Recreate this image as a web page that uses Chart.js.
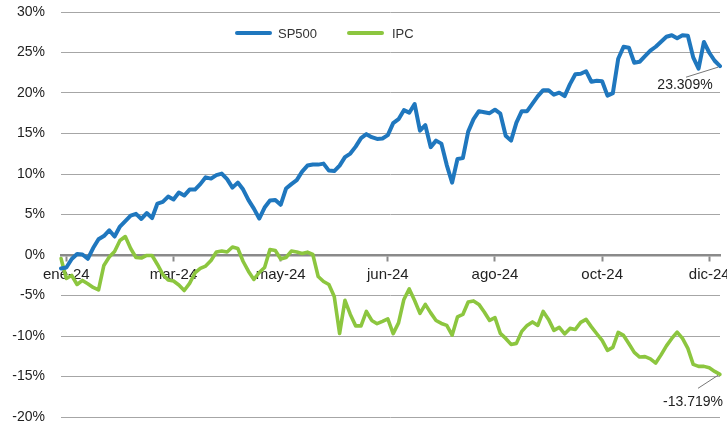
<!DOCTYPE html>
<html>
<head>
<meta charset="utf-8">
<script src="https://cdn.jsdelivr.net/npm/chart.js@4.4.1/dist/chart.umd.min.js"></script>
<style>
  html, body { margin: 0; padding: 0; background: #fff; }
  #wrap { width: 727px; height: 427px; }
</style>
</head>
<body>
<div id="wrap"><canvas id="chart" width="727" height="427"></canvas></div>
<script>
// cumulative return 2024, % (one value every ~2 trading days)
const SP500 = [
  -1.66, -1.54, -0.49, 0.12, 0.06, -0.47, 0.86, 1.94, 2.34, 3.05,
  2.28, 3.51, 4.19, 4.87, 5.08, 4.45, 5.18, 4.56, 6.35, 6.56,
  7.21, 6.85, 7.71, 7.34, 8.08, 8.08, 8.75, 9.59, 9.43, 9.86,
  10.05, 9.37, 8.32, 8.94, 8.08, 6.78, 5.73, 4.50, 5.86, 6.72,
  6.78, 6.20, 8.20, 8.75, 9.25, 10.30, 11.04, 11.18, 11.16, 11.28,
  10.42, 10.36, 11.04, 12.08, 12.52, 13.38, 14.43, 14.92, 14.55, 14.33,
  14.39, 14.80, 16.28, 16.77, 17.88, 17.57, 18.64, 15.35, 16.03, 13.32,
  14.12, 13.75, 11.10, 8.94, 11.86, 11.96, 15.23, 16.77, 17.76, 17.63,
  17.51, 17.94, 17.45, 14.73, 14.12, 16.34, 17.76, 17.76, 18.68, 19.61,
  20.35, 20.35, 19.79, 20.04, 19.61, 21.09, 22.32, 22.38, 22.69, 21.39,
  21.52, 21.45, 19.67, 19.98, 24.23, 25.71, 25.59, 23.74, 23.86, 24.54,
  25.22, 25.71, 26.33, 26.94, 27.13, 26.76, 27.13, 27.07, 24.4, 23.0,
  26.3, 24.97, 23.98, 23.309
];
const IPC = [
  -0.43, -2.9, -2.53, -3.64, -3.14, -3.55, -4.01, -4.32, -1.29, -0.25,
  0.43, 1.79, 2.28, 0.80, -0.31, -0.37, -0.06, -0.06, -1.17, -2.40,
  -3.08, -3.21, -3.70, -4.38, -3.51, -2.22, -1.66, -1.36, -0.68, 0.37,
  0.49, 0.37, 0.99, 0.80, -0.80, -2.03, -3.02, -2.16, -1.54, 0.68,
  0.55, -0.49, -0.31, 0.49, 0.37, 0.18, 0.35, 0.06, -2.65, -3.27,
  -3.64, -5.12, -9.68, -5.6, -7.34, -8.75, -8.75, -6.97, -8.08, -8.48,
  -8.20, -7.89, -9.7, -8.38, -5.49, -4.19, -5.61, -7.21, -6.10, -7.15,
  -8.08, -8.45, -8.69, -9.9, -7.64, -7.34, -5.80, -5.67, -6.10, -7.03,
  -8.08, -7.74, -9.68, -10.30, -11.04, -10.91, -9.43, -8.69, -8.26, -8.69,
  -6.97, -7.95, -9.31, -8.94, -9.74, -9.06, -9.19, -8.32, -7.95, -8.87,
  -9.72, -10.54, -11.78, -11.41, -9.56, -9.93, -10.95, -12.02, -12.60, -12.55,
  -12.82, -13.34, -12.33, -11.22, -10.30, -9.52, -10.30, -11.53, -13.50, -13.75,
  -13.75, -13.93, -14.37, -14.73
];
const days = SP500.map((_, i) => i);
const tickIndex = [1, 21, 41, 61, 81, 101, 121];
const tickLabels = ['ene-24', 'mar-24', 'may-24', 'jun-24', 'ago-24', 'oct-24', 'dic-24'];
const endLabels = ['23.309%', '-13.719%'];

const FONT = '"Liberation Sans", Arial, sans-serif';
const BLUE = '#1f77be';
const GREEN = '#8cc63f';

// legend drawn inside the plot, like the original
const legendPlugin = {
  id: 'insideLegend',
  afterDraw(chart) {
    const ctx = chart.ctx;
    const items = [[237, 278], [349, 392]];
    ctx.save();
    ctx.font = '13px ' + FONT;
    ctx.textBaseline = 'middle';
    chart.data.datasets.forEach((ds, i) => {
      const [lx, tx] = items[i];
      ctx.strokeStyle = ds.borderColor;
      ctx.lineWidth = 4;
      ctx.lineCap = 'round';
      ctx.beginPath();
      ctx.moveTo(lx, 33);
      ctx.lineTo(lx + 33, 33);
      ctx.stroke();
      ctx.fillStyle = '#333';
      ctx.fillText(ds.label, tx, 34);
    });
    ctx.restore();
  }
};

// value labels at the end of each line, with a thin leader
const endLabelPlugin = {
  id: 'endLabels',
  afterDatasetsDraw(chart) {
    const ctx = chart.ctx;
    const offs = [[-35, 19, -34, 11], [-27, 28, -22, 14]];
    ctx.save();
    ctx.font = '14px ' + FONT;
    ctx.textAlign = 'center';
    ctx.textBaseline = 'middle';
    chart.data.datasets.forEach((ds, i) => {
      const pts = chart.getDatasetMeta(i).data;
      const p = pts[pts.length - 1];
      const [tx, ty, lx, ly] = offs[i];
      ctx.strokeStyle = '#777';
      ctx.lineWidth = 1;
      ctx.beginPath();
      ctx.moveTo(p.x - 2, p.y + 1);
      ctx.lineTo(p.x + lx, p.y + ly);
      ctx.stroke();
      ctx.fillStyle = '#222';
      ctx.fillText(endLabels[i], p.x + tx, p.y + ty);
    });
    ctx.restore();
  }
};

new Chart(document.getElementById('chart'), {
  type: 'line',
  data: {
    labels: days,
    datasets: [
      { label: 'SP500', data: SP500, borderColor: BLUE, borderWidth: 4 },
      { label: 'IPC', data: IPC, borderColor: GREEN, borderWidth: 3.6 }
    ]
  },
  options: {
    responsive: false,
    animation: false,
    devicePixelRatio: 1,
    layout: { padding: { top: 12, right: 7, bottom: 10, left: 0 } },
    elements: {
      point: { radius: 0 },
      line: { tension: 0, borderJoinStyle: 'round', borderCapStyle: 'round' }
    },
    plugins: { legend: { display: false }, tooltip: { enabled: false } },
    scales: {
      y: {
        min: -20,
        max: 30,
        ticks: {
          stepSize: 5,
          color: '#222',
          font: { family: FONT, size: 14 },
          padding: 16,
          callback: v => v + '%'
        },
        grid: { color: '#a6a6a6', lineWidth: 1, drawTicks: false },
        border: { display: false },
        afterFit: s => { s.width = 61; s.paddingTop = 0; s.paddingBottom = 0; }
      },
      x: {
        type: 'category',
        position: { y: 0 },
        afterBuildTicks: s => { s.ticks = tickIndex.map(v => ({ value: v })); },
        afterFit: s => { s.paddingLeft = 0; s.paddingRight = 0; s.height = 0; },
        ticks: {
          autoSkip: false,
          maxRotation: 0,
          color: '#222',
          font: { family: FONT, size: 15 },
          padding: 6,
          callback: v => tickLabels[tickIndex.indexOf(v)]
        },
        grid: { drawOnChartArea: false, drawTicks: true, tickLength: 5, tickColor: '#8a8a8a', tickWidth: 2 },
        border: { color: '#8a8a8a', width: 2.5 }
      }
    }
  },
  plugins: [legendPlugin, endLabelPlugin]
});
</script>
</body>
</html>
